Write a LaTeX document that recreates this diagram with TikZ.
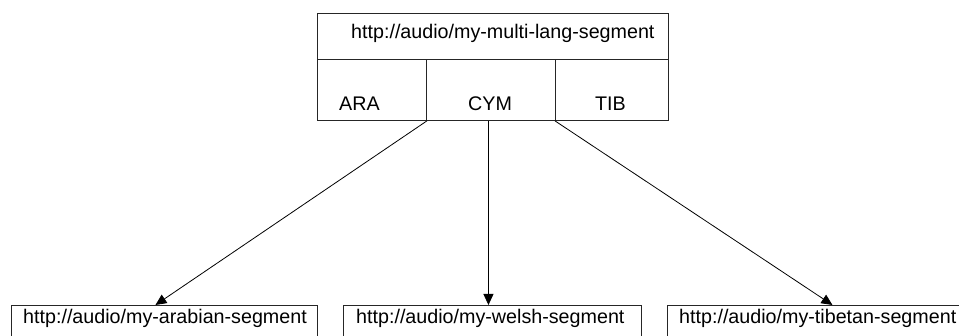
\documentclass[tikz,border=0pt]{standalone}
\usepackage{fontspec}
\setmainfont{Liberation Sans}
\usetikzlibrary{arrows.meta}
\begin{document}
\begin{tikzpicture}[x=1pt,y=1pt,
  cell/.style={draw=black!85, line width=0.9pt, rectangle, inner sep=0pt, anchor=north west},
  lbl/.style={anchor=base west, inner sep=0pt, font=\fontsize{19.7}{22}\selectfont},
  link/.style={draw=black, line width=0.8pt, -{Triangle[length=11pt,width=10pt]}}]
\useasboundingbox (0,0) rectangle (959,336);
\clip (0,0) rectangle (959,336);
% top composite box
\node[cell, minimum width=351pt, minimum height=46pt] (head) at (317,323) {};
\node[cell, minimum width=109pt, minimum height=61pt] (ara) at (317,277) {};
\node[cell, minimum width=129pt, minimum height=61pt] (cym) at (426,277) {};
\node[cell, minimum width=113pt, minimum height=61pt] (tib) at (555,277) {};
\node[lbl] (headtxt) at (351,297) {http://audio/my-multi-lang-segment};
\node[lbl] (aratxt) at (339,225) {ARA};
\node[lbl] (cymtxt) at (468,225) {CYM};
\node[lbl] (tibtxt) at (595,225) {TIB};
% bottom boxes
\node[cell, minimum width=306pt, minimum height=40pt] (b1) at (11,31) {};
\node[cell, minimum width=298pt, minimum height=40pt] (b2) at (343,31) {};
\node[cell, minimum width=300pt, minimum height=40pt] (b3) at (667,31) {};
\node[lbl] (b1txt) at (23,12) {http://audio/my-arabian-segment};
\node[lbl] (b2txt) at (356,12) {http://audio/my-welsh-segment};
\node[lbl] (b3txt) at (679,12) {http://audio/my-tibetan-segment};
% connectors
\draw[link] (ara.south east) -- ([xshift=-9pt]b1.north);
\draw[link] ([xshift=-2.5pt]cym.south) -- ([xshift=-4pt]b2.north);
\draw[link] (tib.south west) -- ([xshift=15pt]b3.north);
\end{tikzpicture}
\end{document}
